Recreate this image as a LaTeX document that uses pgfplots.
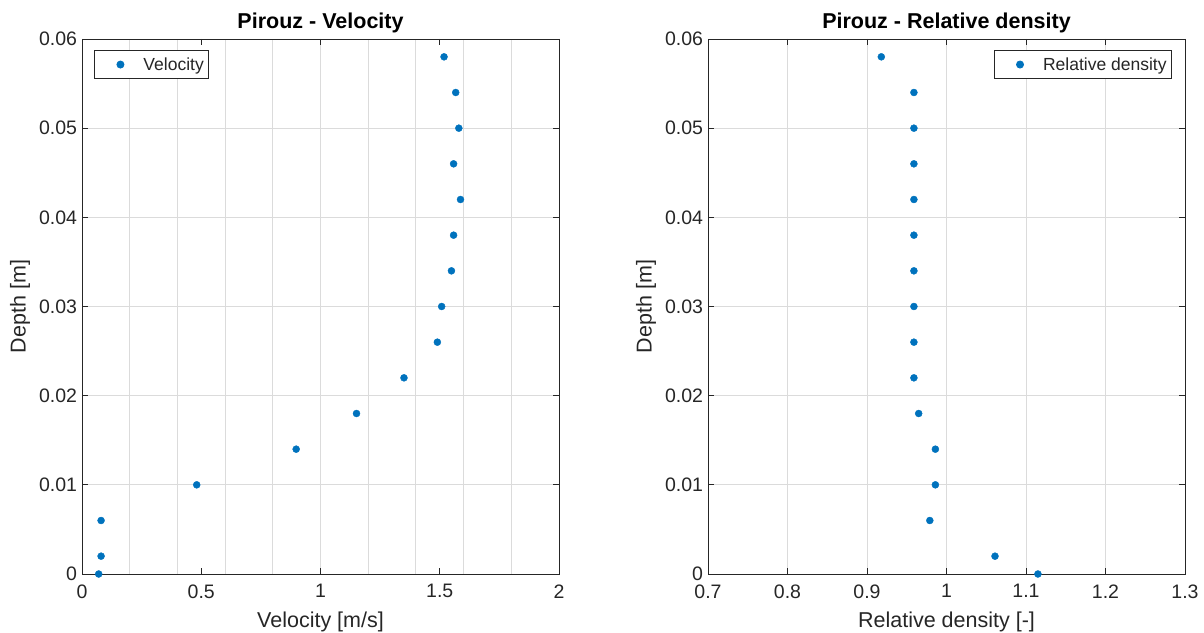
\documentclass[border=0pt]{standalone}
\usepackage{fontspec}
\setmainfont{Liberation Sans}
\usepackage{pgfplots}
\pgfplotsset{compat=1.18}

\definecolor{mblue}{rgb}{0,0.447,0.741}
\definecolor{mgrid}{gray}{0.86}
\definecolor{mtext}{gray}{0.15}

\pgfplotsset{
  mstyle/.style={
    scale only axis,
    width=477pt, height=535pt,
    ymin=0, ymax=0.06,
    ytick={0,0.01,...,0.06},
    scaled y ticks=false,
    yticklabel style={/pgf/number format/fixed, /pgf/number format/precision=2, xshift=-1.5pt},
    xticklabel style={yshift=-7pt},
    /pgf/number format/assume math mode=true,
    tick align=inside,
    major tick length=6pt,
    axis line style={mtext, line width=0.9pt},
    every tick/.style={mtext, line width=0.9pt},
    ymajorgrids,
    grid style={mgrid, line width=0.9pt},
    tick label style={font=\fontsize{19.5}{22}\selectfont, text=mtext},
    label style={font=\fontsize{21.5}{24}\selectfont, text=mtext},
    title style={font=\fontsize{21.5}{24}\selectfont\bfseries, at={(0.5,1)}, anchor=base, yshift=4pt},
    ylabel={Depth [m]},
    ylabel style={at={(axis description cs:0,0.5)}, anchor=center, yshift=62pt},
    xlabel style={at={(axis description cs:0.5,0)}, anchor=center, yshift=-48pt},
    legend style={draw=mtext, line width=0.9pt, font=\fontsize{17.5}{20}\selectfont,
      inner xsep=5pt, inner ysep=7pt, nodes={inner sep=0pt, text=mtext}, column sep=5pt},
    legend image code/.code={
      \path[draw=none, fill=none] (0pt,0pt) -- (39pt,0pt);
      \path[##1, draw=none] plot[only marks] coordinates {(21pt,0pt)};
    },
    legend cell align=left,
  },
}

\begin{document}
\begin{tikzpicture}
\useasboundingbox (0,0) rectangle (1204pt,632pt);

% left: velocity
\begin{axis}[mstyle,
  at={(82pt,58pt)}, anchor=south west,
  xmin=0, xmax=2,
  xtick={0,0.5,...,2},
  minor xtick={0.2,0.4,...,1.8},
  minor tick length=0pt,
  xminorgrids,
  title={Pirouz - Velocity},
  xlabel={Velocity [m/s]},
  legend style={at={(0,1)}, anchor=north west, xshift=12pt, yshift=-11pt},
]
\addplot[only marks, mark=*, mark size=3.5pt, color=mblue] coordinates {
  (1.518,0.058) (1.567,0.054) (1.580,0.050) (1.558,0.046)
  (1.587,0.042) (1.558,0.038) (1.549,0.034) (1.508,0.030)
  (1.490,0.026) (1.350,0.022) (1.151,0.018) (0.898,0.014)
  (0.481,0.010) (0.080,0.006) (0.080,0.002) (0.070,0.000)
};
\addlegendentry{Velocity}
\end{axis}

% right: relative density
\begin{axis}[mstyle,
  at={(708pt,58pt)}, anchor=south west,
  xmin=0.7, xmax=1.3,
  xtick={0.7,0.8,...,1.3},
  xmajorgrids,
  title={Pirouz - Relative density},
  xlabel={Relative density [-]},
  legend style={at={(1,1)}, anchor=north east, xshift=-13pt, yshift=-11pt},
]
\addplot[only marks, mark=*, mark size=3.5pt, color=mblue] coordinates {
  (0.918,0.058) (0.959,0.054) (0.959,0.050) (0.959,0.046)
  (0.959,0.042) (0.959,0.038) (0.959,0.034) (0.959,0.030)
  (0.959,0.026) (0.959,0.022) (0.965,0.018) (0.986,0.014)
  (0.986,0.010) (0.979,0.006) (1.061,0.002) (1.115,0.000)
};
\addlegendentry{Relative density}
\end{axis}
\end{tikzpicture}
\end{document}
